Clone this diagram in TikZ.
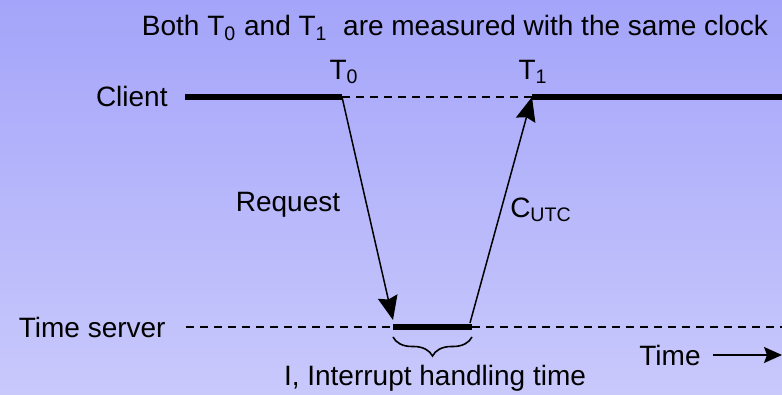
\documentclass[tikz,border=0pt]{standalone}
\usepackage{fontspec}
\setmainfont{Liberation Sans}
\usetikzlibrary{arrows.meta,positioning,decorations.pathreplacing}
\definecolor{bgtop}{RGB}{164,164,250}
\definecolor{bgbot}{RGB}{201,201,252}

\begin{document}
\begin{tikzpicture}[
    x=0.5pt, y=-0.5pt,
    font=\fontsize{14}{17}\selectfont,
    busy/.style={line width=2.8pt},
    idle/.style={line width=0.75pt, dash pattern=on 4pt off 3pt},
    msg/.style={-{Stealth[length=12pt,width=10pt,inset=1.5pt]}, line width=0.75pt},
    lbl/.style={inner sep=0pt}
]
\path[use as bounding box, top color=bgtop, bottom color=bgbot] (0,0) rectangle (782,395);

% time lines
\node[lbl, anchor=east] (client) at (168,96) {Client};
\node[lbl, anchor=east] (server) at (166,327) {Time server};
\coordinate (c0) at (185,97);
\coordinate (t0) at (342,97);
\coordinate (t1) at (532,97);
\coordinate (cend) at (782,97);
\coordinate (s0) at (186,327);
\coordinate (sa) at (393,327);
\coordinate (sb) at (472,327);
\coordinate (send) at (782,327);

\draw[busy] (c0) -- (t0);
\draw[idle] (t0) -- (t1);
\draw[busy] (t1) -- (cend);
\draw[idle] (s0) -- (sa);
\draw[busy] (sa) -- (sb);
\draw[idle] (sb) -- (send);

% labels
\node[lbl] (title) at (455,28) {Both T\textsubscript{0} and T\textsubscript{1}\ \ are measured with the same clock};
\node[lbl] (lt0) at (344,72) {T\textsubscript{0}};
\node[lbl] (lt1) at (533,72) {T\textsubscript{1}};

% messages
\coordinate (rq) at (393,320);
\coordinate (rp) at (470,323);
\draw[msg] (t0) -- (rq);
\draw[msg] (rp) -- (t1);
\node[lbl] (request) at (288,205) {Request};
\node[lbl] (cutc) at (541,210) {C\textsubscript{UTC}};

% interrupt handling
\draw[line width=0.8pt, decorate, decoration={brace, mirror, amplitude=9.5pt}]
  ([yshift=-5pt]sa) -- ([yshift=-5pt]sb);
\node[lbl] (intr) at (435,378) {I, Interrupt handling time};

% time axis
\node[lbl] (time) at (670,355) {Time};
\coordinate (tend) at (782,355);
\draw[-{Stealth[length=9pt,width=8pt,inset=1.5pt]}, line width=0.8pt]
  ([xshift=6pt]time.east) -- (tend);
\end{tikzpicture}
\end{document}
